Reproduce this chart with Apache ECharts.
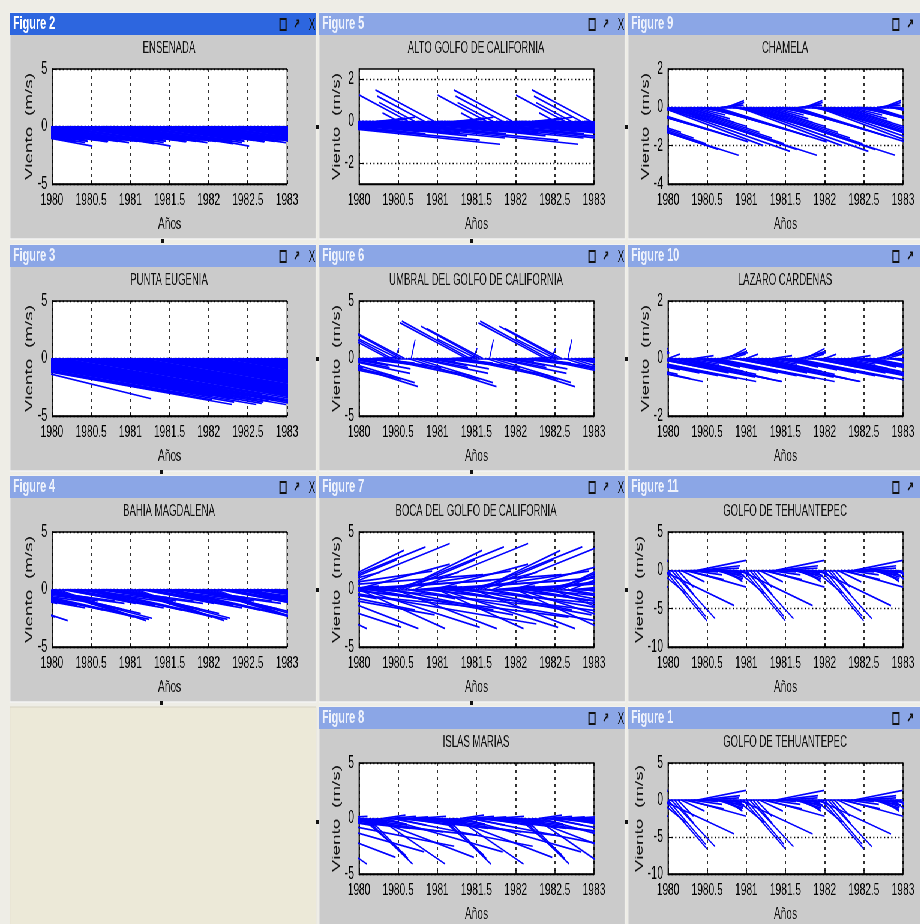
<!DOCTYPE html>
<html>
<head>
<meta charset="utf-8">
<title>Viento - feather</title>
<script src="https://cdn.jsdelivr.net/npm/echarts@6/dist/echarts.min.js"></script>
<style>
  html, body { margin: 0; padding: 0; background: #eeede6; overflow: hidden; }
  #chart { height: 924px; transform-origin: 0 0; }
</style>
</head>
<body>
<div id="chart"></div>
<script>
// start years of the repeated annual pattern (segments outside 1980-1983 are clipped)
const years = [1979, 1980, 1981, 1982];
const xMin = 1980, xMax = 1983, xStep = 0.5;

// y tick labels
const ticks5 = [-5, 0, 5];
const ticksAlto = [-2, 0, 2];
const ticksChamela = [-4, -2, 0, 2];
const ticksLazaro = [-2, 0, 2];
const ticksTehuan = [-10, -5, 0, 5];

// half-month wind vectors: U = horizontal reach (years), V = wind (m/s)
const ensenadaU = [1.3, 1.25, 1.2, 1.3, 1.35, 1.25, 1.2, 1.1, 1.0, 1.2, 1.3, 1.25, 1.2, 1.3, 1.4, 1.3, 1.2, 1.1, 1.25, 1.3, 1.2, 1.25, 1.3, 1.35];
const ensenadaV = [-1.3, -1.2, -1.3, -1.4, -1.7, -1.3, -1.2, -1.1, -1.0, -1.2, -1.3, -1.35, -1.2, -1.3, -1.4, -1.3, -1.2, -1.1, -1.2, -1.3, -1.25, -1.3, -1.35, -1.5];

const altoU = [2.8, 2.5, 1.5, 0.8, 1.2, 0.4, 1.6, 0.3, 0.9, 1.4, 0.3, 1.0, -0.2, 1.7, 1.8, -0.62, 2.2, -0.45, 1.2, 1.5, -0.6, 2.0, 1.1, -0.75];
const altoV = [-1.1, -0.9, -0.5, -0.3, -0.45, 0.1, -0.6, 0.15, -0.35, -0.5, 0.2, -0.3, 0.4, -0.6, -0.7, 1.25, -0.8, 0.9, -0.45, -0.55, 1.2, -0.6, -0.4, 1.5];

const chamelaU = [1.9, 1.6, 1.4, 1.2, 1.0, 0.8, 0.6, 0.5, 0.4, 0.3, 0.4, 0.6, 0.8, 1.0, 1.2, 1.4, 0.3, 0.25, 0.22, 0.18, 0.7, 1.0, 1.3, 1.6];
const chamelaV = [-2.5, -2.2, -1.9, -1.6, -1.3, -1.0, -0.8, -0.6, -0.4, -0.2, -0.3, -0.6, -0.9, -1.2, -1.5, -1.8, 0.1, 0.2, 0.35, 0.25, -0.5, -1.1, -2.0, -2.3];

const eugeniaU = [3.3, 3.0, 2.6, 3.2, 2.1, 3.4, 2.8, 3.1, 2.4, 3.3, 2.9, 3.0, 3.2, 2.7, 3.4, 3.0, 3.1, 2.8, 3.3, 2.5, 3.0, 3.2, 2.4, 3.3];
const eugeniaV = [-4.0, -3.6, -3.1, -3.8, -3.5, -4.0, -3.3, -3.6, -2.8, -3.9, -3.4, -3.5, -3.8, -3.2, -4.0, -3.6, -3.7, -3.3, -3.9, -3.0, -3.6, -3.8, -3.0, -4.0];

const umbralU = [0.5, 0.6, 0.4, 0.7, 0.3, 0.5, 0.8, 1.25, 1.1, -0.85, -0.87, 0.05, -0.5, -0.75, -0.72, 1.13, 0.05, 1.0, 0.9, 0.6, 0.4, 0.5, 0.3, 0.7];
const umbralV = [-0.3, -0.5, -0.2, -0.6, 0.1, -0.4, -0.8, -1.8, -1.5, 3.1, 3.25, 0.9, 1.7, 2.8, 2.6, -2.45, 1.65, -2.1, -1.3, -0.8, -0.3, -0.6, -0.1, -0.9];

const lazaroU = [0.15, 1.4, 1.2, 1.0, 0.8, 0.6, 0.4, 0.3, 0.25, 0.3, 0.5, 0.7, 0.9, 1.1, 1.3, 1.5, 0.35, 0.3, 0.25, 0.2, 0.6, 0.9, 1.2, 1.5];
const lazaroV = [0.15, -0.8, -0.7, -0.55, -0.45, -0.35, -0.2, -0.1, 0.1, -0.15, -0.3, -0.4, -0.5, -0.6, -0.7, -0.8, 0.2, 0.25, 0.35, 0.15, -0.3, -0.5, -0.65, -0.8];

const magdalenaU = [1.2, 1.0, 0.8, 1.3, 0.9, 1.1, 0.7, 1.2, 1.0, 0.6, 0.9, 1.2, 1.5, 1.7, 1.0, 1.3, 0.8, 1.1, 0.8, 1.1, 1.3, 1.4, 0.9, 0.6];
const magdalenaV = [-2.7, -2.4, -2.0, -1.6, -1.2, -1.4, -0.9, -1.1, -0.8, -0.9, -1.4, -1.8, -2.3, -2.6, -1.0, -1.2, -0.7, -1.0, -1.1, -1.7, -2.1, -2.5, -1.9, -1.3];

const bocaU = [1.1, 1.5, 2.5, 0.8, 1.8, 0.6, 2.2, 0.5, 1.6, 0.9, 1.3, 1.3, 1.35, 1.03, 0.9, 0.6, 2.6, 1.45, 0.5, 1.9, 0.7, 2.8, 0.4, 1.2];
const bocaV = [-3.4, -3.3, 1.3, -1.0, -2.2, 0.5, -1.5, -0.4, 1.6, 1.5, -1.8, -3.4, 3.7, 3.4, 2.6, -0.8, -3.0, 4.0, 0.3, 0.8, -0.5, -2.4, 0.2, 2.2];

const tehuanU = [0.48, 0.56, 0.25, 0.2, 0.3, 0.5, 0.75, 0.4, 0.3, 0.62, 0.5, 0.45, 0.4, 0.4, 0.35, 0.33, 0.28, 0.25, 0.2, 0.18, 0.2, 0.35, 0.93, 0.54];
const tehuanV = [-6.0, -6.3, -3.2, -2.2, -1.5, -1.2, -2.2, -0.6, -0.2, 1.3, 0.6, 0.3, -0.1, -0.3, -0.6, -1.1, -1.3, -0.9, -1.5, -0.7, -0.4, -3.0, -4.6, -6.6];

const islasU = [0.5, 0.55, 0.6, 0.5, 1.3, 0.4, 0.85, 0.3, 1.5, 0.35, 1.8, 0.4, 2.0, 0.5, 0.3, 0.6, 0.35, 0.4, 0.9, 0.5, 0.3, 1.2, 0.7, 0.4];
const islasV = [-0.3, -3.3, -4.1, -3.6, -3.5, -0.5, -4.1, 0.3, -3.0, 0.2, -2.5, -0.6, -1.5, -0.3, 0.15, -0.7, -0.4, 0.2, -0.9, -0.5, -0.2, -1.2, -0.6, -0.3];

const panels = [
  { fig: 'Figure 2',  title: 'ENSENADA', col: 0, row: 0, u: ensenadaU, v: ensenadaV, yMin: -5, yMax: 5, ticks: ticks5, active: true },
  { fig: 'Figure 5',  title: 'ALTO GOLFO DE CALIFORNIA', col: 1, row: 0, u: altoU, v: altoV, yMin: -3, yMax: 2.5, ticks: ticksAlto },
  { fig: 'Figure 9',  title: 'CHAMELA', col: 2, row: 0, u: chamelaU, v: chamelaV, yMin: -4, yMax: 2, ticks: ticksChamela },
  { fig: 'Figure 3',  title: 'PUNTA EUGENIA', col: 0, row: 1, u: eugeniaU, v: eugeniaV, yMin: -5, yMax: 5, ticks: ticks5 },
  { fig: 'Figure 6',  title: 'UMBRAL DEL GOLFO DE CALIFORNIA', col: 1, row: 1, u: umbralU, v: umbralV, yMin: -5, yMax: 5, ticks: ticks5 },
  { fig: 'Figure 10', title: 'LAZARO CARDENAS', col: 2, row: 1, u: lazaroU, v: lazaroV, yMin: -2, yMax: 2, ticks: ticksLazaro },
  { fig: 'Figure 4',  title: 'BAHIA MAGDALENA', col: 0, row: 2, u: magdalenaU, v: magdalenaV, yMin: -5, yMax: 5, ticks: ticks5 },
  { fig: 'Figure 7',  title: 'BOCA DEL GOLFO DE CALIFORNIA', col: 1, row: 2, u: bocaU, v: bocaV, yMin: -5, yMax: 5, ticks: ticks5 },
  { fig: 'Figure 11', title: 'GOLFO DE TEHUANTEPEC', col: 2, row: 2, u: tehuanU, v: tehuanV, yMin: -10, yMax: 5, ticks: ticksTehuan },
  { fig: 'Figure 8',  title: 'ISLAS MARIAS', col: 1, row: 3, u: islasU, v: islasV, yMin: -5, yMax: 5, ticks: ticks5 },
  { fig: 'Figure 1',  title: 'GOLFO DE TEHUANTEPEC', col: 2, row: 3, u: tehuanU, v: tehuanV, yMin: -10, yMax: 5, ticks: ticksTehuan }
];

// the screenshot is squeezed horizontally: draw wide, then scale x by SX
const SX = 0.6;
const X = function (px) { return px / SX; };

// window layout (screen pixels)
const colX = [10, 319, 628];
const colW = [306, 306, 300];
const plotOff = [42, 40, 40];
const rowY = [13, 245, 476, 707];
const FONT = '"Liberation Sans", Arial, sans-serif';
const BLUE = '#0000ff';

function feather(u, v) {
  const segs = [{ coords: [[xMin, 0], [xMax, 0]] }]; // baseline
  years.forEach(function (yr) {
    u.forEach(function (dx, i) {
      const t = yr + i / u.length;
      segs.push({ coords: [[t, 0], [t + dx, v[i]]] });
    });
  });
  return segs;
}

const grids = [], xAxes = [], yAxes = [], series = [], graphics = [];

// empty cell (lower left)
graphics.push({ type: 'rect', z: -2, shape: { x: X(colX[0]), y: rowY[3], width: X(colW[0]), height: 230 },
  style: { fill: '#ece9d8', stroke: '#d6d2c2', lineWidth: 1 } });

panels.forEach(function (p, i) {
  const wx = colX[p.col], wy = rowY[p.row], ww = colW[p.col];
  const left = wx + plotOff[p.col], top = wy + 56;

  // window body + title bar
  graphics.push({ type: 'rect', z: -2, shape: { x: X(wx), y: wy, width: X(ww), height: 226 },
    style: { fill: '#cbcbcb', stroke: '#f4f4f4', lineWidth: 1.5 } });
  graphics.push({ type: 'rect', z: -1, shape: { x: X(wx), y: wy, width: X(ww), height: 22 },
    style: { fill: p.active ? '#2d66df' : '#8ba6e6' } });
  graphics.push({ type: 'text', z: 5, x: X(wx + 3), y: wy + 11,
    style: { text: p.fig, fill: p.active ? '#ffffff' : '#eef2fc', font: 'bold 18px ' + FONT, verticalAlign: 'middle' } });
  const ix = p.col === 2 ? 893 : wx + 270;
  graphics.push({ type: 'rect', z: 5, shape: { x: X(ix), y: wy + 6, width: X(6), height: 11 },
    style: { fill: 'none', stroke: '#111', lineWidth: 2 } });
  graphics.push({ type: 'text', z: 5, x: X(ix + 17), y: wy + 11,
    style: { text: '↗', fill: '#111', font: 'bold 14px ' + FONT, align: 'center', verticalAlign: 'middle' } });
  if (p.col !== 2) {
    graphics.push({ type: 'text', z: 5, x: X(ix + 32), y: wy + 12,
      style: { text: 'X', fill: '#111', font: '17px ' + FONT, align: 'center', verticalAlign: 'middle' } });
  }
  // plot title
  graphics.push({ type: 'text', z: 5, x: X(left + 117), y: wy + 36,
    style: { text: p.title, fill: '#111', font: '16px ' + FONT, align: 'center', verticalAlign: 'middle' } });

  grids.push({ left: X(left), top: top, width: X(235), height: 115, show: true,
    backgroundColor: '#ffffff', borderColor: '#000', borderWidth: 1.3 });

  xAxes.push({
    type: 'value', gridIndex: i, min: xMin, max: xMax, interval: xStep,
    axisLine: { show: true, onZero: false, lineStyle: { color: '#000', width: 1.3 } },
    axisTick: { show: true, inside: true, length: 4, lineStyle: { color: '#000', width: 1.6 } },
    axisLabel: { color: '#000', fontSize: 17, fontFamily: FONT, margin: 8,
      showMinLabel: true, showMaxLabel: true, formatter: function (val) { return String(val); } },
    splitLine: { show: true, lineStyle: { color: '#000', type: [3, 4], width: 1.6 } },
    name: 'Años', nameLocation: 'middle', nameGap: 32,
    nameTextStyle: { color: '#111', fontSize: 17, fontFamily: FONT }
  });
  yAxes.push({
    type: 'value', gridIndex: i, min: p.yMin, max: p.yMax,
    axisLine: { show: true, onZero: false, lineStyle: { color: '#000', width: 1.6 } },
    axisTick: { show: true, inside: true, length: 7, customValues: p.ticks, lineStyle: { color: '#000' } },
    axisLabel: { color: '#000', fontSize: 18, fontFamily: FONT, margin: 8, customValues: p.ticks,
      formatter: function (val) { return String(val); } },
    splitLine: { show: true, lineStyle: { color: '#000', type: [2, 4], width: 1.3 } },
    name: 'Viento  (m/s)', nameLocation: 'middle', nameRotate: 90, nameGap: 28,
    nameTextStyle: { color: '#111', fontSize: 19, fontFamily: FONT }
  });
  series.push({
    type: 'lines', coordinateSystem: 'cartesian2d', xAxisIndex: i, yAxisIndex: i,
    polyline: false, silent: true, clip: true, animation: false,
    lineStyle: { color: BLUE, width: 1.7, opacity: 1, curveness: 0 },
    data: feather(p.u, p.v)
  });
});

// splitter handles between windows
[[316, 125], [625, 125], [316, 357], [625, 357], [316, 588], [625, 588], [316, 820], [625, 820],
 [161, 239], [470, 239], [160, 470], [470, 470], [160, 701], [470, 701]].forEach(function (d) {
  graphics.push({ type: 'rect', z: 6, shape: { x: X(d[0]), y: d[1], width: X(3), height: 4 }, style: { fill: '#111' } });
});

const el = document.getElementById('chart');
el.style.width = X(920) + 'px';
el.style.transform = 'scaleX(' + SX + ')';
const chart = echarts.init(el, null, { renderer: 'canvas' });
chart.setOption({
  animation: false,
  backgroundColor: '#eeede6',
  grid: grids,
  xAxis: xAxes,
  yAxis: yAxes,
  series: series,
  graphic: { elements: graphics }
});
</script>
</body>
</html>
